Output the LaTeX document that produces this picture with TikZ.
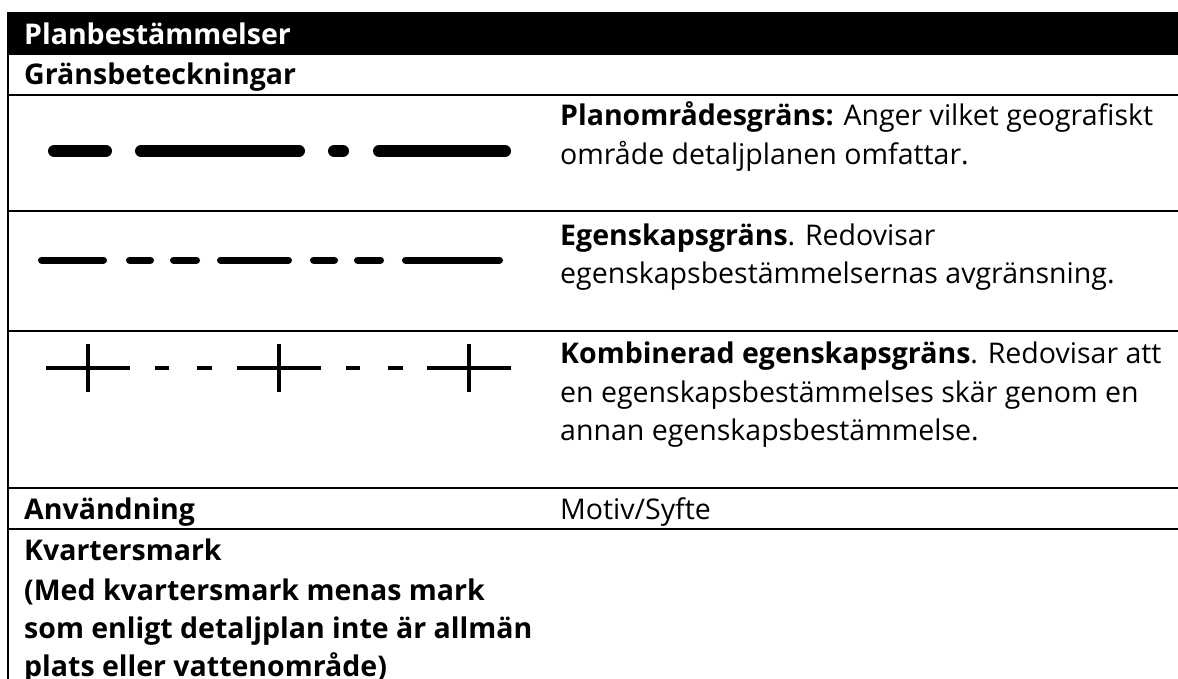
\documentclass[tikz,border=0pt]{standalone}
\usepackage{fontspec}
\setmainfont{Open Sans}
\begin{document}
\begin{tikzpicture}[x=1pt,y=-1pt,
    rule/.style={line width=2pt},
    txt/.style={anchor=base west,inner sep=0pt,font=\fontsize{28.5}{39}\selectfont},
    btxt/.style={txt,font=\fontsize{28.5}{39}\selectfont\bfseries},
    thickdash/.style={line width=12pt,line cap=round},
    middash/.style={line width=7pt,line cap=round},
    crossline/.style={line width=4.5pt}]
    \useasboundingbox (0,0) rectangle (1178,679);

    % header and table rules
    \fill (8,12) rectangle (1178,55);
    \draw [rule] (8,12) -- (8,679);
    \draw [rule] (8,95) -- (1178,95);
    \draw [rule] (8,211) -- (1178,211);
    \draw [rule] (8,331) -- (1178,331);
    \draw [rule] (8,488) -- (1178,488);
    \draw [rule] (8,529) -- (1178,529);

    \node [btxt,text=white] (head) at (24,45) {Planbestämmelser};
    \node [btxt] (grans) at (24,85) {Gränsbeteckningar};

    % planomradesgrans
    \draw [thickdash] (54,151) -- (106,151);
    \draw [thickdash] (141,151) -- (299,151);
    \draw [thickdash] (334,151) -- (343,151);
    \draw [thickdash] (379,151) -- (505,151);
    \node [txt] (plan1) at (560,126) {\textbf{Planområdesgräns:} Anger vilket geografiskt};
    \node [txt] (plan2) at (560,165) {område detaljplanen omfattar.};

    % egenskapsgrans
    \draw [middash] (41.5,260) -- (103.5,260);
    \draw [middash] (129.5,260) -- (150.5,260);
    \draw [middash] (173.5,260) -- (196.5,260);
    \draw [middash] (220.5,260) -- (288.5,260);
    \draw [middash] (313.5,260) -- (334.5,260);
    \draw [middash] (357.5,260) -- (380.5,260);
    \draw [middash] (405.5,260) -- (499.5,260);
    \node [txt] (egen1) at (560,245) {\textbf{Egenskapsgräns}. Redovisar};
    \node [txt] (egen2) at (560,283) {egenskapsbestämmelsernas avgränsning.};

    % kombinerad egenskapsgrans
    \foreach \cx in {88,279,469} {
        \draw [crossline] (\cx-42,368) -- (\cx+42,368);
        \draw [crossline] (\cx,344) -- (\cx,392);
    }
    \foreach \cx in {88,279} {
        \draw [crossline] (\cx+67,368) -- (\cx+81,368);
        \draw [crossline] (\cx+109,368) -- (\cx+124,368);
    }
    \node [txt] (komb1) at (560,363) {\textbf{Kombinerad egenskapsgräns}. Redovisar att};
    \node [txt] (komb2) at (560,402) {en egenskapsbestämmelses skär genom en};
    \node [txt] (komb3) at (560,440) {annan egenskapsbestämmelse.};

    % anvandning
    \node [btxt] (anv) at (24,519) {Användning};
    \node [txt] (motiv) at (560,519) {Motiv/Syfte};

    \node [btxt] (kv1) at (24,560) {Kvartersmark};
    \node [btxt] (kv2) at (24,600) {(Med kvartersmark menas mark};
    \node [btxt] (kv3) at (24,638) {som enligt detaljplan inte är allmän};
    \node [btxt] (kv4) at (24,676) {plats eller vattenområde)};
\end{tikzpicture}
\end{document}
